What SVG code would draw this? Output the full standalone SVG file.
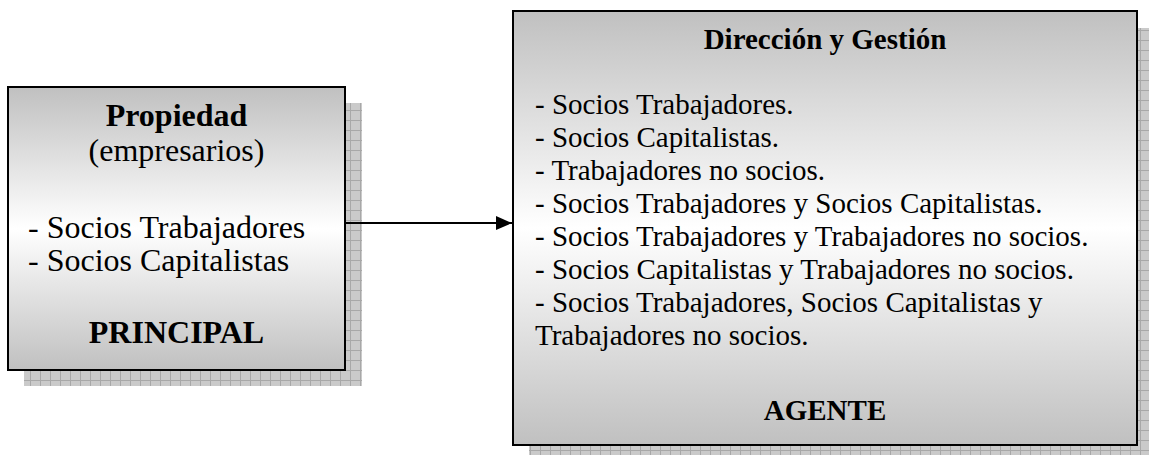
<svg xmlns="http://www.w3.org/2000/svg" width="1149" height="455" viewBox="0 0 1149 455">
  <defs>
    <linearGradient id="boxGrad" x1="0" y1="0" x2="0" y2="1">
      <stop offset="0" stop-color="#c0c0c0"/>
      <stop offset="0.5" stop-color="#ffffff"/>
      <stop offset="1" stop-color="#c0c0c0"/>
    </linearGradient>
    <pattern id="shadowPat" x="0" y="0" width="10" height="10" patternUnits="userSpaceOnUse">
      <rect width="10" height="10" fill="#cacaca"/>
      <path d="M0 0.5H10M0.5 0V10" stroke="#a8a8a8" stroke-width="1" fill="none"/>
    </pattern>
    <marker id="arrow" viewBox="0 0 16 14" refX="16" refY="7" markerWidth="16" markerHeight="14" markerUnits="userSpaceOnUse" orient="auto">
      <path d="M0 0L16 7L0 14Z" fill="#000"/>
    </marker>
  </defs>
  <style>
    .shadow { fill: url(#shadowPat); }
    .box { fill: url(#boxGrad); stroke: #000; stroke-width: 2; }
    .t { font-family: "Liberation Serif", "Times New Roman", serif; fill: #000; }
    .l { font-size: 32px; }
    .r { font-size: 29px; }
    .b { font-weight: bold; }
    .c { text-anchor: middle; }
    .conn { stroke: #000; stroke-width: 2; fill: none; }
  </style>

  <g id="principal">
    <rect class="shadow" x="24" y="103" width="338" height="283"/>
    <rect class="box" x="8" y="87" width="337" height="283"/>
    <text class="t l b c" x="176.5" y="126">Propiedad</text>
    <text class="t l c" x="176.5" y="161">(empresarios)</text>
    <text class="t l" x="28" y="238">- Socios Trabajadores</text>
    <text class="t l" x="28" y="271">- Socios Capitalistas</text>
    <text class="t l b c" x="176.5" y="343">PRINCIPAL</text>
  </g>

  <g id="agente">
    <rect class="shadow" x="529" y="28" width="625" height="435"/>
    <rect class="box" x="513" y="11" width="624" height="434"/>
    <text class="t r b c" x="825" y="49">Dirección y Gestión</text>
    <text class="t r" x="535" y="114">- Socios Trabajadores.</text>
    <text class="t r" x="535" y="147">- Socios Capitalistas.</text>
    <text class="t r" x="535" y="180">- Trabajadores no socios.</text>
    <text class="t r" x="535" y="213">- Socios Trabajadores y Socios Capitalistas.</text>
    <text class="t r" x="535" y="246">- Socios Trabajadores y Trabajadores no socios.</text>
    <text class="t r" x="535" y="279">- Socios Capitalistas y Trabajadores no socios.</text>
    <text class="t r" x="535" y="312">- Socios Trabajadores, Socios Capitalistas y</text>
    <text class="t r" x="535" y="345">Trabajadores no socios.</text>
    <text class="t r b c" x="825" y="420">AGENTE</text>
  </g>

  <g id="connectors">
    <line class="conn" x1="345" y1="223" x2="512" y2="223" marker-end="url(#arrow)"/>
  </g>
</svg>
